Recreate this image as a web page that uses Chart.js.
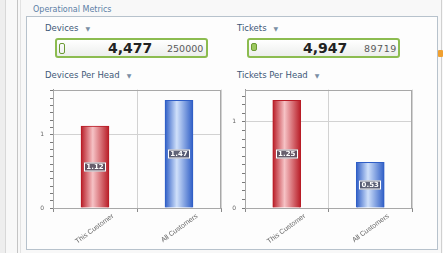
<!DOCTYPE html>
<html>
<head>
<meta charset="utf-8">
<script src="https://cdn.jsdelivr.net/npm/chart.js@4.4.1/dist/chart.umd.min.js"></script>
<style>
  body { margin: 0; width: 443px; height: 253px; overflow: hidden; background: #f8f8f8; position: relative; font-family: "DejaVu Sans", sans-serif; }
  .abs { position: absolute; }
  .rail { left: 17px; top: 0; width: 1px; height: 253px; background: #c4c4c4; }
  .rail2 { left: 20px; top: 0; width: 1px; height: 253px; background: #e2e2e2; }
  .edge { left: 0; top: 0; width: 5px; height: 253px; background: #eeeeee; border-right: 1px solid #d8d8d8; }
  .panel { left: 26px; top: 16px; width: 410px; height: 232px; border: 1px solid #b7c2cc; background: #fdfdfd; }
  .rightline { left: 441px; top: 0; width: 1px; height: 253px; background: #d0d0d0; }
  .orange { left: 438px; top: 50px; width: 5px; height: 7px; background: #f0a030; border-radius: 1px; }
  .section { left: 33px; top: 5px; font-size: 8px; color: #5b7ea6; }
  .hdr { font-size: 8.5px; color: #3d5878; }
  .hdr span { font-size: 6px; color: #7a8ea4; margin-left: 7px; }
  .kpi { width: 149px; height: 16px; border: 2px solid #8cbc50; border-radius: 3px; background: linear-gradient(#ffffff, #eceeec); }
  .kpi .big { position: absolute; top: 0; font-size: 14px; font-weight: bold; color: #222; line-height: 16px; }
  .kpi .small { position: absolute; top: 3px; font-size: 9.5px; color: #5a5a5a; line-height: 12px; }
  .kpi .icon { position: absolute; left: 2px; top: 3px; width: 4px; height: 9px; border: 1px solid #6c9a34; border-radius: 2px; }
  canvas { position: absolute; }
</style>
</head>
<body>
<div class="abs edge"></div>
<div class="abs rail"></div>
<div class="abs rail2"></div>
<div class="abs panel"></div>
<div class="abs rightline"></div>
<div class="abs orange"></div>
<div class="abs section">Operational Metrics</div>

<div class="abs hdr" style="left:45px;top:23px;">Devices<span>▼</span></div>
<div class="abs hdr" style="left:237px;top:23px;">Tickets<span>▼</span></div>

<div class="abs kpi" style="left:55px;top:38px;">
  <div class="icon"></div>
  <div class="big" style="left:51px;">4,477</div>
  <div class="small" style="left:110px;">250000</div>
</div>
<div class="abs kpi" style="left:247px;top:38px;">
  <div class="icon" style="background:#9cc860;height:6px;"></div>
  <div class="big" style="left:54px;">4,947</div>
  <div class="small" style="left:115px;letter-spacing:0.5px;">89719</div>
</div>

<div class="abs hdr" style="left:45px;top:70px;">Devices Per Head<span>▼</span></div>
<div class="abs hdr" style="left:237px;top:70px;">Tickets Per Head<span>▼</span></div>

<canvas id="devChart" width="190" height="170" style="left:38px;top:80px;"></canvas>
<canvas id="tktChart" width="190" height="170" style="left:230px;top:80px;"></canvas>

<script>
// data
const categories = ['This Customer', 'All Customers'];
const devicesPerHead = [1.12, 1.47];
const ticketsPerHead = [1.25, 0.53];
// edge / highlight colours for each bar
const barEdge = ['#b81c26', '#2f5ec6'];
const barShine = ['#f6c2c5', '#cfe0fa'];

Chart.defaults.font.family = '"DejaVu Sans", sans-serif';
Chart.defaults.devicePixelRatio = 1;

const BAR_W = 28;

function cylinder(ctx) {
  const chart = ctx.chart;
  const i = ctx.dataIndex || 0;
  const xs = chart.scales && chart.scales.x;
  if (!xs) return barEdge[i];
  const cx = xs.getPixelForValue(i);
  if (!isFinite(cx)) return barEdge[i];
  const g = chart.ctx.createLinearGradient(cx - BAR_W / 2, 0, cx + BAR_W / 2, 0);
  g.addColorStop(0, barEdge[i]);
  g.addColorStop(0.42, barShine[i]);
  g.addColorStop(1, barEdge[i]);
  return g;
}

// grey frame round the plot area
const frame = {
  id: 'frame',
  beforeDatasetsDraw(chart) {
    const a = chart.chartArea, c = chart.ctx;
    c.save();
    c.strokeStyle = '#a8a8a8';
    c.lineWidth = 1;
    c.strokeRect(Math.round(a.left) + 0.5, Math.round(a.top) + 0.5, Math.round(a.right - a.left) - 1, Math.round(a.bottom - a.top));
    c.restore();
  }
};

// value tags in the middle of each bar
const valueTags = {
  id: 'valueTags',
  afterDatasetsDraw(chart) {
    const c = chart.ctx;
    const meta = chart.getDatasetMeta(0);
    c.save();
    c.font = 'bold 7px "DejaVu Sans"';
    c.textAlign = 'center';
    c.textBaseline = 'middle';
    meta.data.forEach((bar, i) => {
      const txt = chart.data.datasets[0].data[i].toFixed(2);
      const y = Math.round((bar.y + bar.base) / 2);
      const w = Math.round(c.measureText(txt).width) + 5, h = 9;
      const x0 = Math.round(bar.x - w / 2);
      c.fillStyle = 'rgba(80,80,96,0.85)';
      c.fillRect(x0, y - h / 2, w, h);
      c.strokeStyle = '#ffffff';
      c.lineWidth = 1;
      c.strokeRect(x0 + 0.5, y - h / 2 + 0.5, w - 1, h - 1);
      c.fillStyle = '#ffffff';
      c.fillText(txt, bar.x, y + 0.5);
    });
    c.restore();
  }
};

function isWhole(v) { return Math.abs(v - Math.round(v)) < 1e-6; }

function makeChart(id, values, pad) {
  return new Chart(document.getElementById(id), {
    type: 'bar',
    data: {
      labels: categories,
      datasets: [{
        data: values,
        backgroundColor: cylinder,
        borderColor: barEdge,
        borderWidth: 1,
        barThickness: BAR_W
      }]
    },
    options: {
      responsive: false,
      animation: false,
      layout: { padding: pad },
      plugins: { legend: { display: false }, tooltip: { enabled: false } },
      scales: {
        x: {
          grid: { color: '#d2d2d2', tickColor: '#8a8a8a', tickLength: 4, offset: true },
          border: { color: '#9a9a9a' },
          ticks: { minRotation: 36, maxRotation: 36, labelOffset: 18, padding: 0, color: '#666', font: { size: 7, family: '"Liberation Sans", sans-serif' } },
          afterFit: s => { s.height = 42; }
        },
        y: {
          min: 0,
          max: Math.max(...values) * 1.1,
          grid: {
            color: c => (c.tick && c.tick.value > 0 && isWhole(c.tick.value)) ? '#d2d2d2' : 'transparent',
            tickColor: '#7a7a7a',
            tickLength: 3
          },
          border: { color: '#9a9a9a' },
          ticks: {
            stepSize: 0.1,
            autoSkip: false,
            includeBounds: false,
            padding: 6,
            color: '#666',
            font: { size: 6 },
            callback: v => isWhole(v) ? String(Math.round(v)) : ''
          },
          afterFit: s => { s.width = 15; }
        }
      }
    },
    plugins: [frame, valueTags]
  });
}

makeChart('devChart', devicesPerHead, { top: 5, right: 7, left: 0, bottom: 0 });
makeChart('tktChart', ticketsPerHead, { top: 4, right: 8, left: 0, bottom: 0 });
</script>
</body>
</html>
